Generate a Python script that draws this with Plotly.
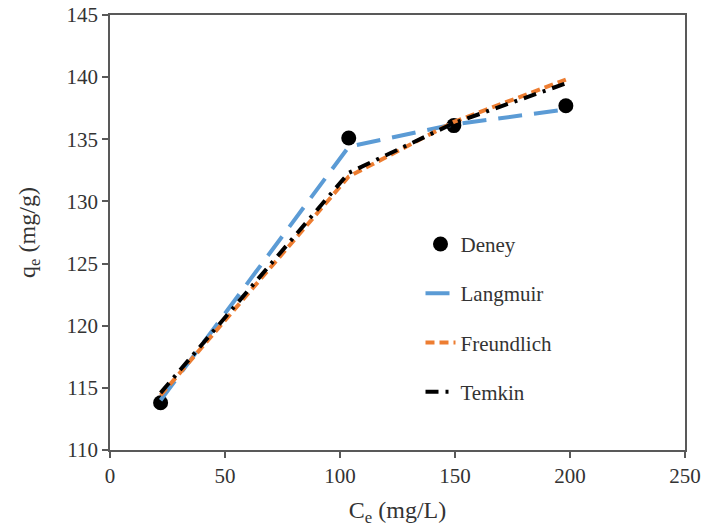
import plotly.graph_objects as go

ce = [22.0, 103.8, 149.5, 198.2]
qe_exp = [113.8, 135.1, 136.1, 137.7]
qe_langmuir = [114.0, 134.4, 136.2, 137.4]
qe_freundlich = [114.4, 132.0, 136.4, 139.8]
qe_temkin = [114.6, 132.3, 136.3, 139.5]

font_family = "Liberation Serif"
text_color = "#333333"

fig = go.Figure()
fig.add_trace(go.Scatter(x=ce, y=qe_exp, mode="markers", name="Deney",
                         marker=dict(color="black", size=15), legendgroup="a"))
fig.add_trace(go.Scatter(x=ce, y=qe_langmuir, mode="lines", name="Langmuir",
                         line=dict(color="#5B9BD5", width=4, dash="24px,12px"), legendgroup="b"))
fig.add_trace(go.Scatter(x=ce, y=qe_freundlich, mode="lines", name="Freundlich",
                         line=dict(color="#ED7D31", width=4, dash="9px,5px"), legendgroup="c"))
fig.add_trace(go.Scatter(x=ce, y=qe_temkin, mode="lines", name="Temkin",
                         line=dict(color="black", width=4, dash="13px,7px,3px,7px"), legendgroup="d"))

axis_common = dict(showline=True, linecolor="#595959", linewidth=1.5, mirror=True,
                   ticks="outside", ticklen=6, tickcolor="#595959", tickwidth=1.5,
                   showgrid=False, zeroline=False, ticklabeloverflow="allow",
                   tickfont=dict(family=font_family, size=21, color=text_color))

fig.update_layout(
    width=704, height=528,
    margin=dict(l=110, r=19, t=15, b=78),
    plot_bgcolor="white", paper_bgcolor="white",
    font=dict(family=font_family, color=text_color),
    xaxis=dict(range=[0, 250], dtick=50, automargin=False,
               title=dict(text="C<sub>e</sub> (mg/L)", font=dict(family=font_family, size=24, color=text_color), standoff=14),
               **axis_common),
    yaxis=dict(range=[110, 145], dtick=5, automargin=False,
               title=dict(text="q<sub>e</sub> (mg/g)", font=dict(family=font_family, size=24, color=text_color), standoff=24),
               **axis_common),
    legend=dict(x=0.54, y=0.52, xanchor="left", yanchor="top",
                font=dict(family=font_family, size=21, color=text_color),
                traceorder="grouped", tracegroupgap=19,
                bgcolor="rgba(0,0,0,0)", itemwidth=30),
)

fig.write_html("out.html", config={"displayModeBar": False},
               post_script="document.body.style.margin='0';document.body.style.overflow='hidden';")
